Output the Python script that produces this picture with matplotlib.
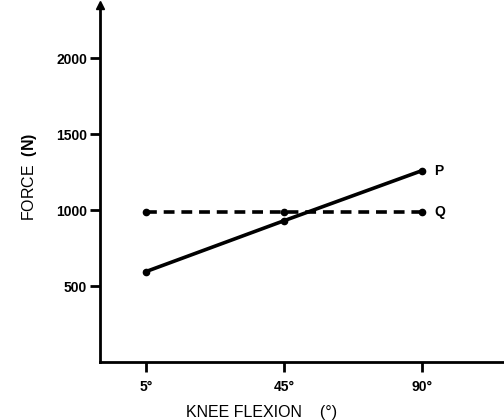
import matplotlib
matplotlib.use("Agg")
from matplotlib import pyplot as plt

angles = ['5°', '45°', '90°']
force_p = [595, 930, 1260]
force_q = [990, 990, 990]

plt.rcParams['font.family'] = ['Liberation Sans', 'DejaVu Sans']
plt.rcParams['mathtext.fontset'] = 'custom'
plt.rcParams['mathtext.rm'] = 'Liberation Sans'
plt.rcParams['mathtext.bf'] = 'Liberation Sans:bold'

fig = plt.figure(figsize=(5.04, 4.2), dpi=100)
ax = fig.add_axes([0.198, 0.138, 0.802, 0.85])

x = range(len(angles))
ax.plot(x, force_p, color='black', lw=2.6, marker='o', ms=4.5)
ax.plot(x, force_q, color='black', lw=2.6, ls=(0, (3.0, 1.9)), marker='o', ms=4.5)

ax.text(2.09, force_p[-1], 'P', fontsize=10, fontweight='bold', va='center')
ax.text(2.09, force_q[-1], 'Q', fontsize=10, fontweight='bold', va='center')

ax.set_xlim(-0.333, 2.594)
ax.set_ylim(0, 2350)
ax.set_xticks(list(x))
ax.set_xticklabels(angles)
ax.set_yticks([500, 1000, 1500, 2000])

for s in ['top', 'right']:
    ax.spines[s].set_visible(False)
for s in ['left', 'bottom']:
    ax.spines[s].set_linewidth(2)
ax.tick_params(width=2, length=7, labelsize=10)
ax.tick_params(axis='x', pad=6)
ax.tick_params(axis='y', pad=2)
for lab in ax.get_xticklabels() + ax.get_yticklabels():
    lab.set_fontweight('bold')

# arrow on the y axis
ax.plot([-0.333], [2350], marker='^', color='black', ms=6, clip_on=False)

ax.set_xlabel('KNEE FLEXION    (°)', fontsize=11.5)
ax.xaxis.set_label_coords(0.40, -0.12)
ax.set_ylabel(r'FORCE  $\mathbf{(N)}$', fontsize=11.5)
ax.yaxis.set_label_coords(-0.15, 0.52)

plt.savefig('out.png', dpi=100)
